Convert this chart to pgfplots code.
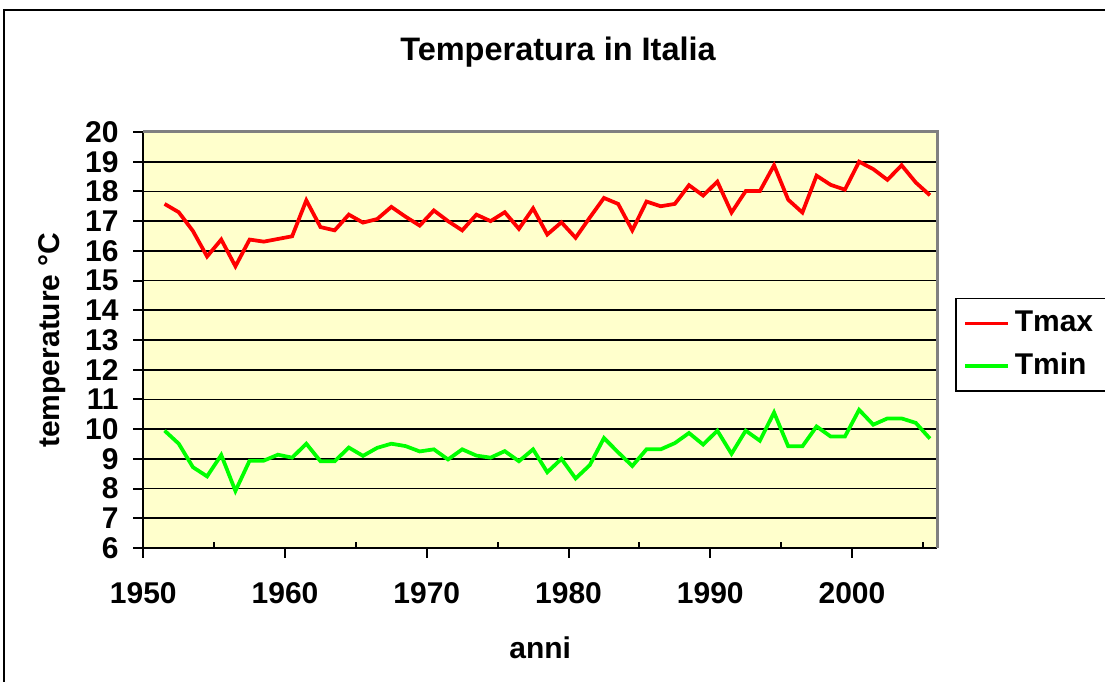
\documentclass[border=0pt]{standalone}
\usepackage{fontspec}
\setmainfont{Liberation Sans}
\usepackage{pgfplots}
\usepackage{pgfplotstable}
\pgfplotsset{compat=1.18}
\definecolor{plotbg}{HTML}{FFFFCC}
\definecolor{tred}{HTML}{FF0000}
\definecolor{tgreen}{HTML}{00FF00}
\definecolor{bordergray}{HTML}{808080}
\newcommand\lab{\bfseries\fontsize{12}{14}\selectfont}

\pgfplotstableread{
year   tmax   tmin
1951.5 17.58  9.95
1952.5 17.30  9.51
1953.5 16.67  8.72
1954.5 15.81  8.41
1955.5 16.38  9.13
1956.5 15.48  7.92
1957.5 16.38  8.94
1958.5 16.31  8.94
1959.5 16.40  9.14
1960.5 16.49  9.04
1961.5 17.70  9.51
1962.5 16.80  8.92
1963.5 16.69  8.92
1964.5 17.22  9.38
1965.5 16.95  9.10
1966.5 17.07  9.37
1967.5 17.48  9.51
1968.5 17.15  9.43
1969.5 16.85  9.25
1970.5 17.36  9.32
1971.5 17.00  8.98
1972.5 16.69  9.32
1973.5 17.22  9.11
1974.5 17.00  9.04
1975.5 17.30  9.26
1976.5 16.74  8.92
1977.5 17.43  9.32
1978.5 16.55  8.55
1979.5 16.96  9.00
1980.5 16.44  8.34
1981.5 17.12  8.79
1982.5 17.78  9.70
1983.5 17.58  9.22
1984.5 16.69  8.76
1985.5 17.66  9.32
1986.5 17.50  9.32
1987.5 17.58  9.53
1988.5 18.21  9.87
1989.5 17.86  9.48
1990.5 18.33  9.95
1991.5 17.29  9.17
1992.5 18.01  9.95
1993.5 18.01  9.61
1994.5 18.88  10.56
1995.5 17.72  9.42
1996.5 17.29  9.42
1997.5 18.53  10.09
1998.5 18.22  9.75
1999.5 18.06  9.75
2000.5 19.00  10.65
2001.5 18.75  10.15
2002.5 18.39  10.36
2003.5 18.88  10.36
2004.5 18.30  10.21
2005.5 17.87  9.68
}\temps

\begin{document}
\begin{tikzpicture}
\useasboundingbox (0,0) rectangle (442pt,272.8pt);
\draw[black, line width=0.8pt] (1.6pt,-20pt) -- (1.6pt,268.8pt) -- (470pt,268.8pt);
\begin{axis}[
  at={(57.32pt,53.6pt)}, anchor=south west,
  scale only axis, width=317.5pt, height=166.4pt,
  xmin=1950, xmax=2006, ymin=6, ymax=20,
  axis x line*=bottom, axis y line*=left,
  axis line style={black, line width=0.8pt},
  axis background/.style={fill=plotbg},
  xtick={1950,1960,...,2000},
  ytick={6,7,...,20},
  extra x ticks={1955,1965,...,2005},
  extra x tick labels={},
  extra x tick style={tick align=inside, major tick length=2.4pt},
  tick align=outside,
  major tick length=4pt,
  tick style={black, line width=0.8pt},
  ymajorgrids, grid style={black, line width=0.7pt},
  /pgf/number format/1000 sep={},
  /pgf/number format/assume math mode=true,
  ticklabel style={font=\lab},
  yticklabel style={xshift=-2.4pt},
  xticklabel style={yshift=-6.4pt},
  title={Temperatura in Italia},
  every axis title/.style={font=\bfseries\fontsize{13}{15}\selectfont,
    at={(axis description cs:0.5225,1.192)}, anchor=center},
  xlabel={anni},
  xlabel style={font=\lab, at={(axis description cs:0.5,-0.24)}, anchor=center},
  ylabel={temperature °C},
  ylabel style={font=\lab, at={(axis description cs:-0.115,0.5)}, anchor=center},
  legend style={at={(axis description cs:1.0227,0.601)}, anchor=north west,
    draw=black, line width=0.6pt, font=\lab, row sep=3pt, inner xsep=3pt, inner ysep=3pt},
  legend cell align=left,
  after end axis/.code={\draw[bordergray, line width=1.2pt] (rel axis cs:0,1) -- (rel axis cs:1,1) -- (rel axis cs:1,0);},
]
\addplot[tred, line width=1.5pt, no marks] table[x=year, y=tmax] {\temps};
\addlegendentry{Tmax}
\addplot[tgreen, line width=1.5pt, no marks] table[x=year, y=tmin] {\temps};
\addlegendentry{Tmin}
\end{axis}
\end{tikzpicture}
\end{document}
